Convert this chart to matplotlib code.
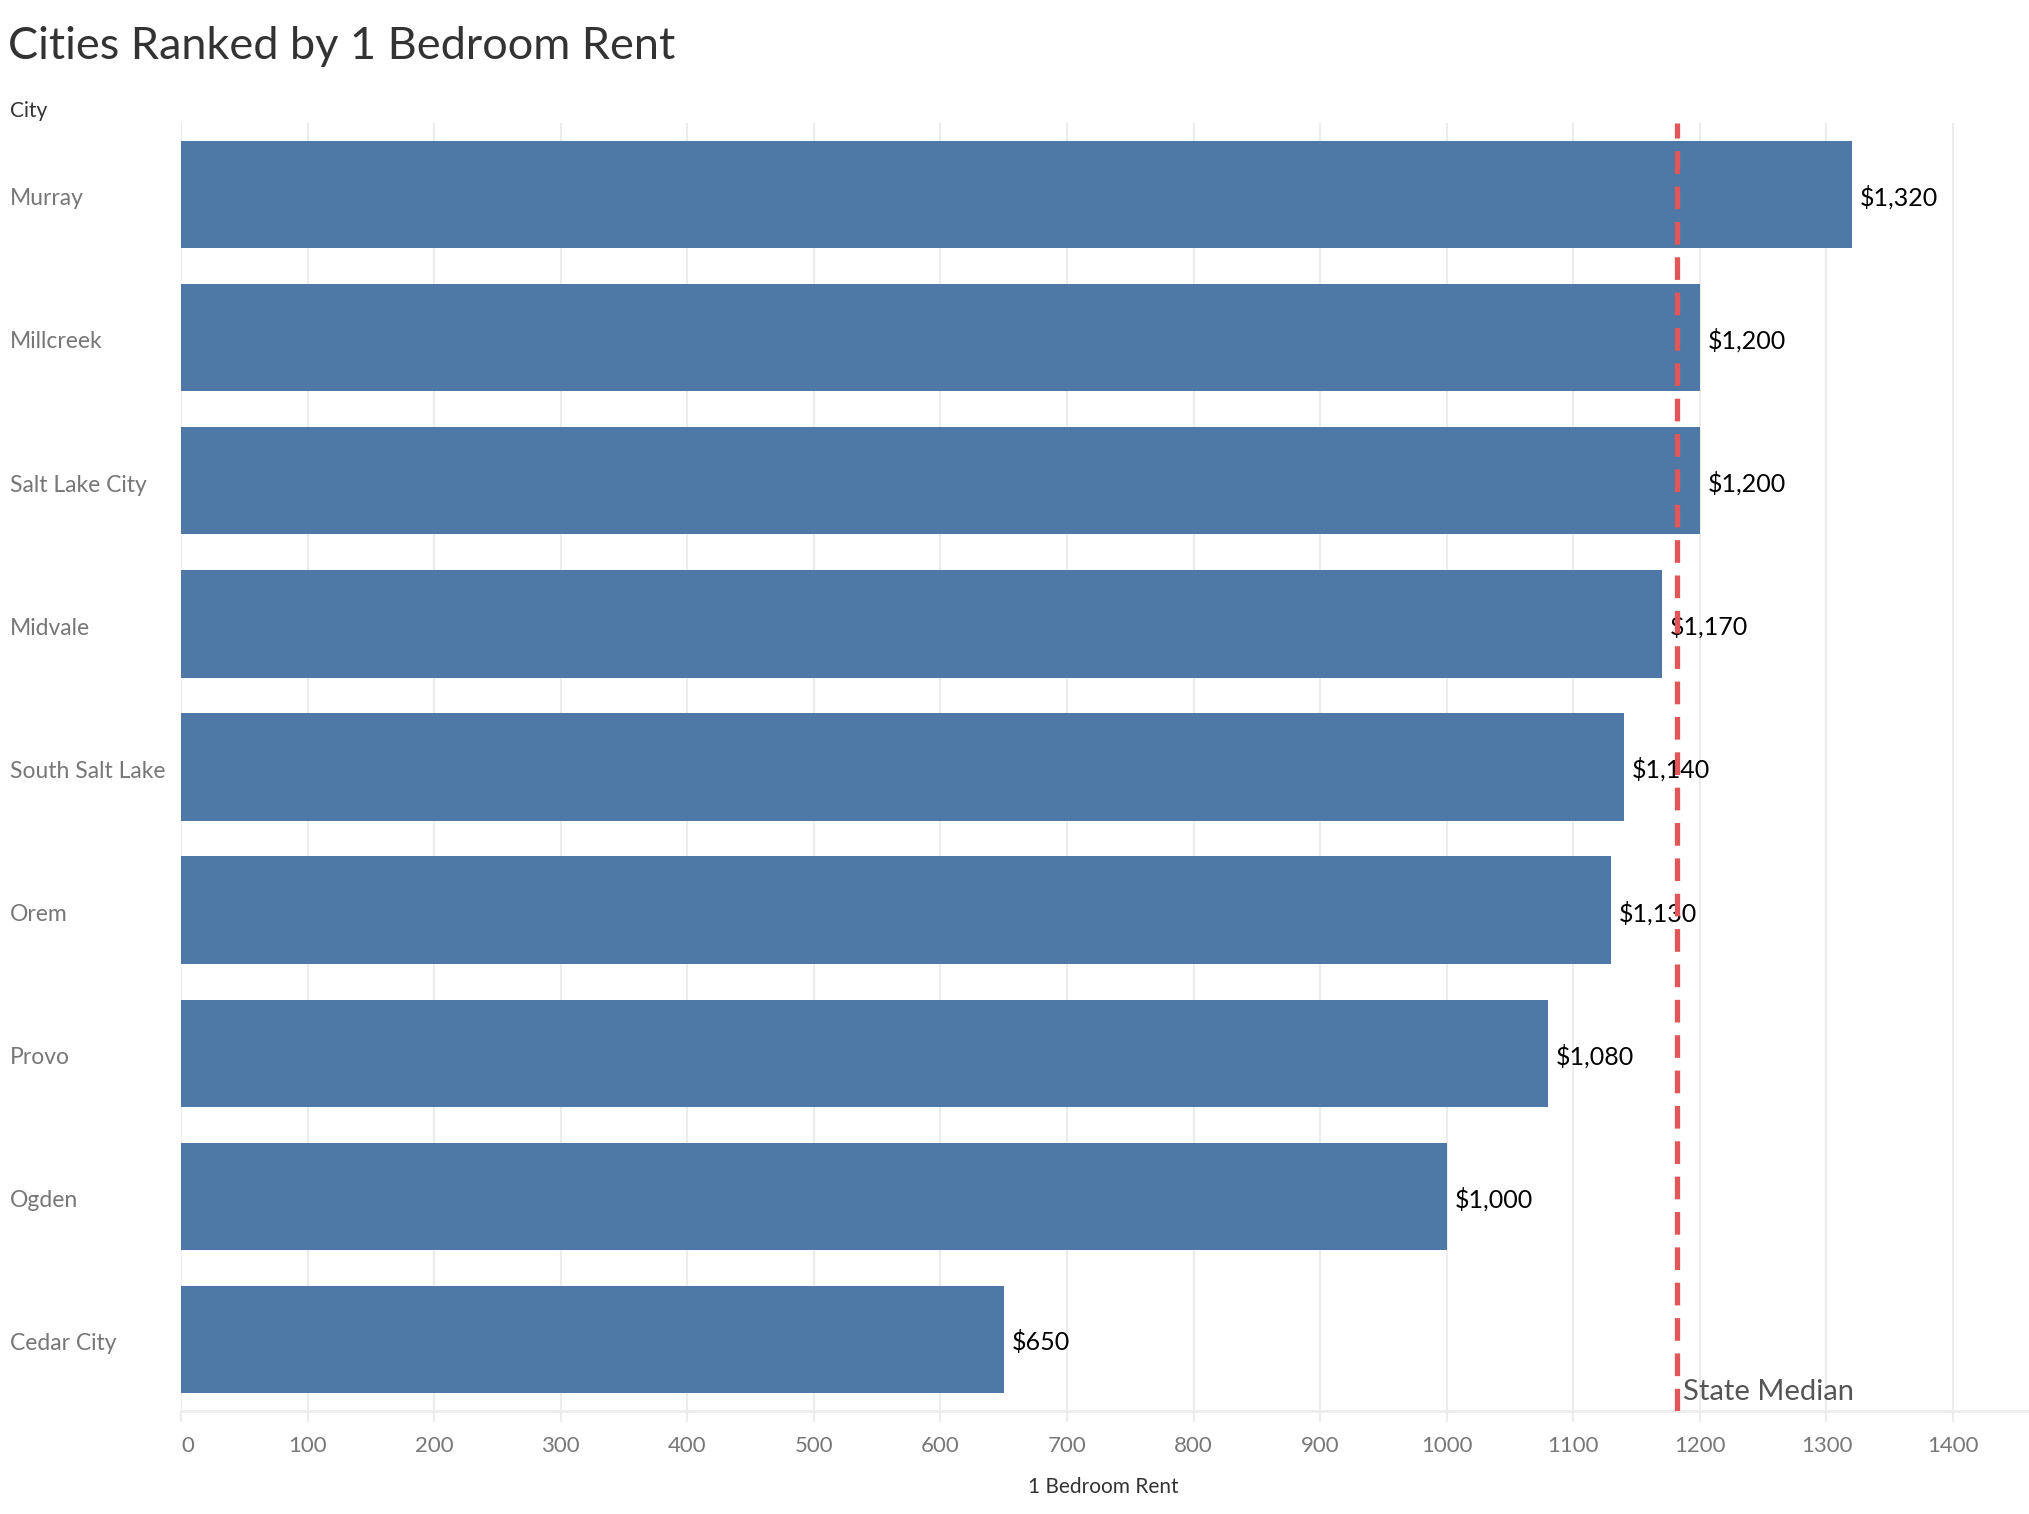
import matplotlib.pyplot as plt
from matplotlib.transforms import blended_transform_factory

plt.rcParams['font.family'] = ['Lato', 'DejaVu Sans']

# data
cities = ['Murray', 'Millcreek', 'Salt Lake City', 'Midvale', 'South Salt Lake',
          'Orem', 'Provo', 'Ogden', 'Cedar City']
rent = [1320, 1200, 1200, 1170, 1140, 1130, 1080, 1000, 650]
state_median = 1182
xticks = list(range(0, 1500, 100))

bar_color = '#4e79a7'
line_color = '#e15759'
grid_color = '#ececec'

fig = plt.figure(figsize=(20.29, 15.14), dpi=100)
ax = fig.add_axes([0.0892, 0.068, 0.9108, 0.8508])

ypos = list(range(len(cities)))
ax.barh(ypos, rent, height=0.75, color=bar_color, zorder=2)
ax.set_ylim(len(cities) - 0.5, -0.5)
ax.set_xlim(0, 1460)

# value labels
for y, v in zip(ypos, rent):
    ax.text(v + 6, y + 0.02, '${:,}'.format(v), va='center', ha='left',
            fontsize=18, color='black', zorder=3)

# state median reference line
ax.axvline(state_median, color=line_color, lw=3.8, dashes=(4.3, 2.4), zorder=4)
ax.text(state_median + 5, len(cities) - 0.5 - 0.04, 'State Median', ha='left', va='bottom',
        fontsize=21, color='#555555', zorder=5)

# grid and axes
ax.set_xticks(xticks)
ax.set_xticklabels([str(t) for t in xticks], fontsize=16, color='#777777')
ax.tick_params(axis='x', length=8, color=grid_color, width=1.5, pad=10)
ax.xaxis.grid(True, color=grid_color, lw=1.5, zorder=0)
ax.set_axisbelow(True)
ax.get_xticklabels()[0].set_horizontalalignment('left')
ax.set_yticks([])
for s in ['top', 'right', 'left']:
    ax.spines[s].set_visible(False)
ax.spines['bottom'].set_color(grid_color)
ax.spines['bottom'].set_linewidth(2)

# city labels, left aligned at figure edge
trans = blended_transform_factory(fig.transFigure, ax.transData)
for y, c in zip(ypos, cities):
    ax.text(0.005, y + 0.03, c, transform=trans, ha='left', va='center',
            fontsize=16.5, color='#777777')

fig.text(0.004, 0.969, 'Cities Ranked by 1 Bedroom Rent', fontsize=32.5,
         color='#333333', ha='left', va='center')
fig.text(0.005, 0.927, 'City', fontsize=15, color='#333333', ha='left', va='center')
fig.text(0.544, 0.018, '1 Bedroom Rent', fontsize=15, color='#333333',
         ha='center', va='center')

fig.savefig('out.png', dpi=100)
